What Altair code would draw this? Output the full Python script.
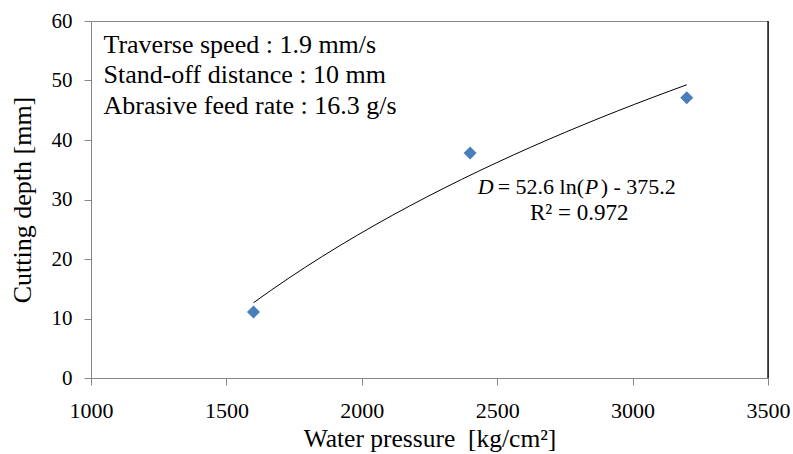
import altair as alt
import pandas as pd

pressure = [1600, 2400, 3200]
depth = [11.1, 37.8, 47.1]

info_lines = ["Traverse speed : 1.9 mm/s", "Stand-off distance : 10 mm", "Abrasive feed rate : 16.3 g/s"]
info_y = [54.7, 49.6, 44.3]

eq_parts = ["D", "= 52.6 ln(", "P", ") - 375.2"]
eq_style = ["italic", "normal", "italic", "normal"]
eq_dx = [0, 20, 107, 123]
r2_text = "R\u00b2 = 0.972"

FONT = "'Liberation Serif', 'Times New Roman', 'DejaVu Serif', serif"
GRAY = "#868686"

df = pd.DataFrame({"P": pressure, "D": depth})
info_df = pd.DataFrame({"t": info_lines, "y": info_y})

xs = alt.Scale(domain=[1000, 3500], nice=False, zero=False)
ys = alt.Scale(domain=[0, 60], nice=False)

xax = alt.Axis(values=[1000, 1500, 2000, 2500, 3000, 3500], format="d",
               title="Water pressure\u00a0 [kg/cm\u00b2]",
               grid=False, domainColor=GRAY, tickColor=GRAY, tickSize=7, labelPadding=15,
               labelFont=FONT, labelFontSize=22, labelColor="black", titleFont=FONT,
               titleFontSize=25.5, titleFontWeight="normal", titleColor="black", titlePadding=5,
               labelFlush=False)
yax = alt.Axis(values=[0, 10, 20, 30, 40, 50, 60], format="d", title="Cutting depth [mm]",
               grid=False, domainColor=GRAY, tickColor=GRAY, tickSize=7, labelPadding=12,
               labelFont=FONT, labelFontSize=21, labelColor="black", titleFont=FONT,
               titleFontSize=26, titleFontWeight="normal", titleColor="black", titlePadding=16,
               labelFlush=False)

base = alt.Chart(df)

points = base.mark_point(shape="diamond", filled=True, size=170, color="#4A7EBB", opacity=1).encode(
    x=alt.X("P:Q", scale=xs, axis=xax),
    y=alt.Y("D:Q", scale=ys, axis=yax),
)

trend = base.transform_regression("P", "D", method="log", extent=[1600, 3200]).mark_line(
    color="black", strokeWidth=1
).encode(x=alt.X("P:Q", scale=xs), y=alt.Y("D:Q", scale=ys))

info = alt.Chart(info_df).mark_text(font=FONT, fontSize=26, align="left", baseline="alphabetic", color="black").encode(
    x=alt.datum(1046), y=alt.Y("y:Q", scale=ys), text="t:N"
)

eq_layers = []
for part, style, dx in zip(eq_parts, eq_style, eq_dx):
    eq_layers.append(
        alt.Chart(pd.DataFrame({"t": [part]})).mark_text(
            font=FONT, fontSize=22, fontStyle=style, align="left", baseline="alphabetic", color="black", dx=dx
        ).encode(x=alt.datum(2428), y=alt.datum(30.9), text="t:N")
    )

r2 = alt.Chart(pd.DataFrame({"t": [r2_text]})).mark_text(font=FONT, fontSize=23, align="center", baseline="alphabetic", color="black").encode(
    x=alt.datum(2803), y=alt.datum(26.5), text="t:N"
)

right_edge = alt.Chart(pd.DataFrame({"a": [0]})).mark_rule(color="black", strokeWidth=1.3).encode(
    x=alt.datum(3500), y=alt.datum(0), y2=alt.datum(60)
)

chart = alt.layer(trend, points, info, *eq_layers, r2, right_edge).properties(
    width=677, height=357,
    autosize=alt.AutoSizeParams(type="none"),
    padding={"left": 91, "top": 21, "right": 25, "bottom": 76},
).configure(background="white", font=FONT).configure_view(stroke=GRAY, strokeWidth=1).configure_text(font=FONT)

chart.save("out.html", embed_options={"renderer": "svg", "actions": False})
